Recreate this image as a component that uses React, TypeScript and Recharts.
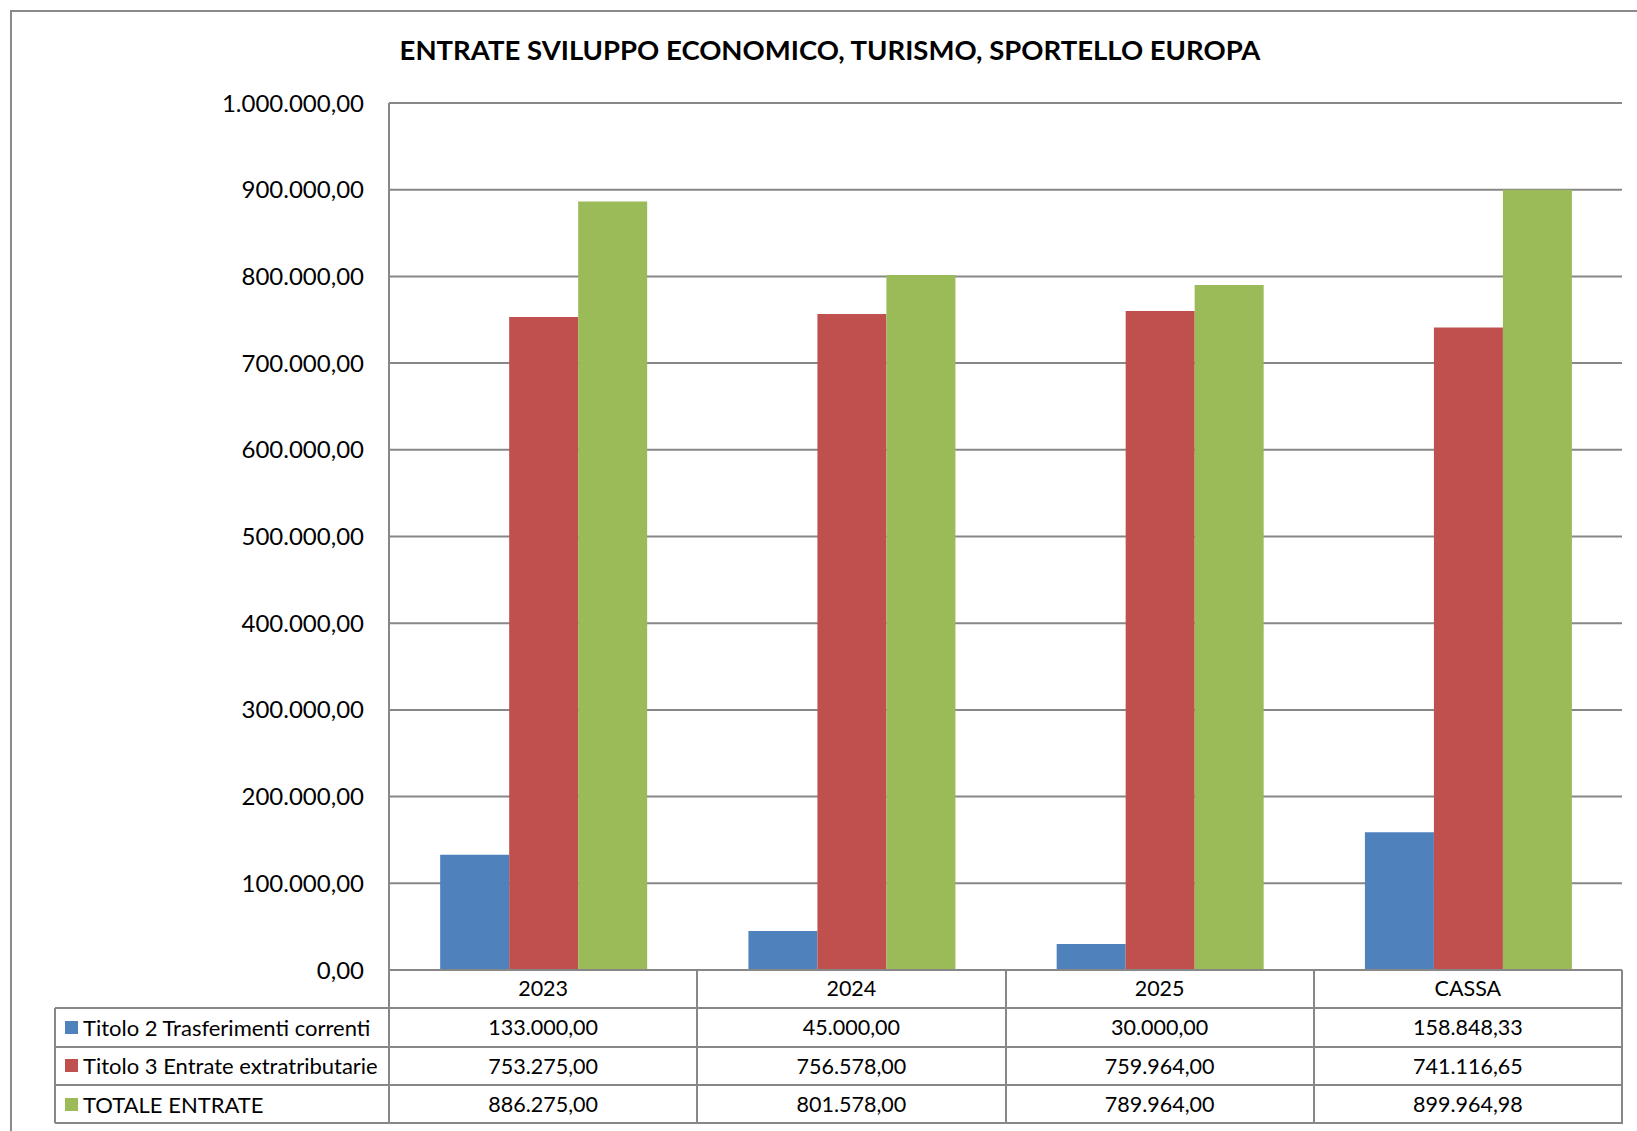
import React from "react";
import { BarChart, Bar, XAxis, YAxis, CartesianGrid } from "recharts";

const categories = ["2023", "2024", "2025", "CASSA"];
const titolo2 = [133000, 45000, 30000, 158848.33];
const titolo3 = [753275, 756578, 759964, 741116.65];
const totale = [886275, 801578, 789964, 899964.98];
const seriesNames = ["Titolo 2 Trasferimenti correnti", "Titolo 3 Entrate extratributarie", "TOTALE ENTRATE"];
const seriesColors = ["#4F81BD", "#C0504D", "#9BBB59"];
const yTicks = [0, 100000, 200000, 300000, 400000, 500000, 600000, 700000, 800000, 900000, 1000000];

const data = categories.map((c, i) => ({ cat: c, t2: titolo2[i], t3: titolo3[i], tot: totale[i] }));
const seriesValues = [titolo2, titolo3, totale];

const fmt = (v: number) =>
  v.toLocaleString("it-IT", { minimumFractionDigits: 2, maximumFractionDigits: 2, useGrouping: "always" } as any);

const FONT = "Lato, 'Liberation Sans', sans-serif";
const GRID = "#878787";
const W = 1637;
const H = 1131;
const PLOT_L = 389;
const PLOT_R = 1622;
const PLOT_T = 103;
const PLOT_B = 970;
const ROW_H = 38.3;
const TABLE_L = 55;
const XAXIS_H = 40;

export default function App() {
  const colW = (PLOT_R - PLOT_L) / categories.length;
  return (
    <div style={{ position: "absolute", left: 0, top: 0, width: W, height: H, background: "#fff", fontFamily: FONT, overflow: "hidden" }}>
      <div style={{ position: "absolute", left: 10, top: 10, width: W + 20, height: H + 20, border: "2px solid #8a8a8a", boxSizing: "border-box" }} />
      <div style={{ position: "absolute", left: 0, width: 1660, top: 33, textAlign: "center", fontWeight: 700, fontSize: 27.5, color: "#000" }}>
        ENTRATE SVILUPPO ECONOMICO, TURISMO, SPORTELLO EUROPA
      </div>
      <div style={{ position: "absolute", left: 0, top: 0 }}>
        <BarChart
          width={W}
          height={H}
          data={data}
          margin={{ top: PLOT_T, left: PLOT_L - 160, right: W - PLOT_R, bottom: H - PLOT_B - XAXIS_H }}
          barCategoryGap="16.6%"
          barGap={0}
        >
          <CartesianGrid vertical={false} stroke={GRID} strokeWidth={2} />
          <XAxis
            dataKey="cat"
            axisLine={{ stroke: GRID, strokeWidth: 2 }}
            tickLine={false}
            tickSize={0}
            tickMargin={11}
            height={XAXIS_H}
            interval={0}
            tick={{ fill: "#000", fontSize: 21.5, fontFamily: FONT }}
          />
          <YAxis
            width={160}
            domain={[0, 1000000]}
            ticks={yTicks}
            interval={0}
            tickFormatter={fmt}
            axisLine={{ stroke: GRID, strokeWidth: 2 }}
            tickLine={false}
            tickSize={0}
            tickMargin={25}
            tick={{ fill: "#000", fontSize: 24, fontFamily: FONT }}
          />
          <Bar dataKey="t2" name={seriesNames[0]} fill={seriesColors[0]} isAnimationActive={false} />
          <Bar dataKey="t3" name={seriesNames[1]} fill={seriesColors[1]} isAnimationActive={false} />
          <Bar dataKey="tot" name={seriesNames[2]} fill={seriesColors[2]} isAnimationActive={false} />
        </BarChart>
      </div>
      <div style={{ position: "absolute", left: PLOT_L - 1, top: PLOT_B, width: 2, height: ROW_H * 4, background: GRID }} />
      {categories.map((c, i) => (
        <div key={c} style={{ position: "absolute", left: PLOT_L + colW * (i + 1) - 1, top: PLOT_B, width: 2, height: ROW_H * 4, background: GRID }} />
      ))}
      {[1, 2, 3, 4].map((r) => (
        <div key={r} style={{ position: "absolute", left: TABLE_L, top: PLOT_B + ROW_H * r - 1, width: PLOT_R - TABLE_L + 1, height: 2, background: GRID }} />
      ))}
      <div style={{ position: "absolute", left: TABLE_L - 1, top: PLOT_B + ROW_H, width: 2, height: ROW_H * 3, background: GRID }} />
      {seriesNames.map((name, r) => (
        <React.Fragment key={name}>
          <div style={{ position: "absolute", left: TABLE_L + 10, top: PLOT_B + ROW_H * (r + 1), height: ROW_H, display: "flex", alignItems: "center", fontSize: 22, color: "#000", whiteSpace: "nowrap" }}>
            <span style={{ display: "inline-block", width: 13, height: 13, background: seriesColors[r], marginRight: 5 }} />
            {name}
          </div>
          {seriesValues[r].map((v, i) => (
            <div key={i} style={{ position: "absolute", left: PLOT_L + colW * i, width: colW, top: PLOT_B + ROW_H * (r + 1), height: ROW_H, display: "flex", alignItems: "center", justifyContent: "center", fontSize: 21.5, color: "#000" }}>
              {fmt(v)}
            </div>
          ))}
        </React.Fragment>
      ))}
    </div>
  );
}
